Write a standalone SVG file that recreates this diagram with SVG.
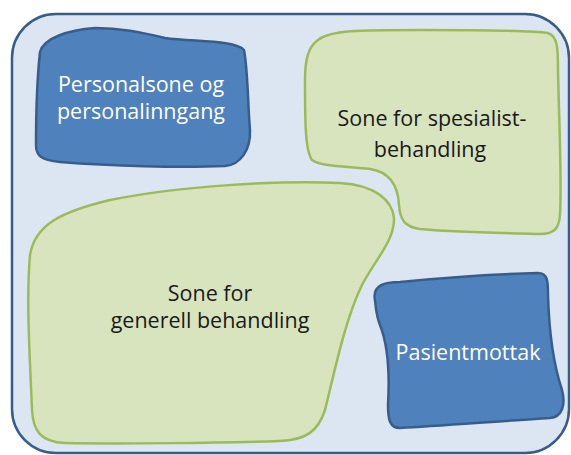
<svg xmlns="http://www.w3.org/2000/svg" width="571" height="455" viewBox="0 0 571 455">
<style>
.blue{fill:#4f81bd;stroke:#385d8a;stroke-width:2.5;stroke-linejoin:round}
.green{fill:#d7e4bd;stroke:#9bbb59;stroke-width:2.5;stroke-linejoin:round}
.tw{font-family:"Open Sans","Noto Sans",sans-serif;font-size:21.5px;fill:#ffffff;text-anchor:middle}
.tb{font-family:"Open Sans","Noto Sans",sans-serif;font-size:21.5px;fill:#1a1a1a;text-anchor:middle}
</style>
<rect width="571" height="455" fill="#ffffff"/>
<g id="outer">
<rect x="12" y="14" width="557" height="439" rx="44" ry="44" fill="#dce6f2" stroke="#385d8a" stroke-width="2.5"/>
</g>
<g id="personalsone">
<path class="blue" d="M 40 52 C 44 38, 68 30, 95 28 C 120 28, 140 32, 165 38 C 195 42, 235 40, 244 50 C 248 70, 248 110, 250 130 C 251 150, 240 165, 225 166 C 180 168, 110 166, 60 162 C 40 160, 36 155, 36 145 C 36 110, 37 80, 40 52 Z"/>
<text class="tw" x="141" y="92">Personalsone og</text>
<text class="tw" x="141" y="119">personalinngang</text>
</g>
<g id="spesialist">
<path class="green" d="M 318 40 C 330 30, 360 30, 420 30 C 480 30, 530 30, 548 33 C 558 36, 558 50, 558 70 C 559 120, 562 180, 560 215 C 559 228, 555 234, 540 234 C 500 233, 450 232, 420 229 C 405 227, 400 220, 399 205 C 398 185, 390 172, 370 169 C 340 166, 320 166, 312 160 C 305 150, 305 120, 305 80 C 305 60, 308 47, 318 40 Z"/>
<text class="tb" x="432" y="126">Sone for spesialist-</text>
<text class="tb" x="430" y="157">behandling</text>
</g>
<g id="generell">
<path class="green" d="M 30 255 C 35 225, 60 212, 110 200 C 180 186, 280 180, 340 183 C 375 185, 392 200, 394 218 C 395 240, 375 260, 362 285 C 345 320, 335 370, 325 410 C 318 432, 305 440, 280 441 C 220 443, 120 444, 65 443 C 40 442, 33 430, 32 410 C 30 360, 26 300, 30 255 Z"/>
<text class="tb" x="210" y="301">Sone for</text>
<text class="tb" x="210" y="328">generell behandling</text>
</g>
<g id="pasientmottak">
<path class="blue" d="M 375 300 C 372 285, 385 282, 400 282 C 440 278, 500 274, 538 273 C 548 273, 548 282, 548 295 C 549 330, 552 360, 562 390 C 566 405, 562 417, 550 418 C 500 421, 440 426, 400 428 C 390 428, 388 420, 388 405 C 390 370, 388 345, 380 325 C 376 315, 376 308, 375 300 Z"/>
<text class="tw" x="468" y="360">Pasientmottak</text>
</g>
<g id="connectors"></g>
</svg>
